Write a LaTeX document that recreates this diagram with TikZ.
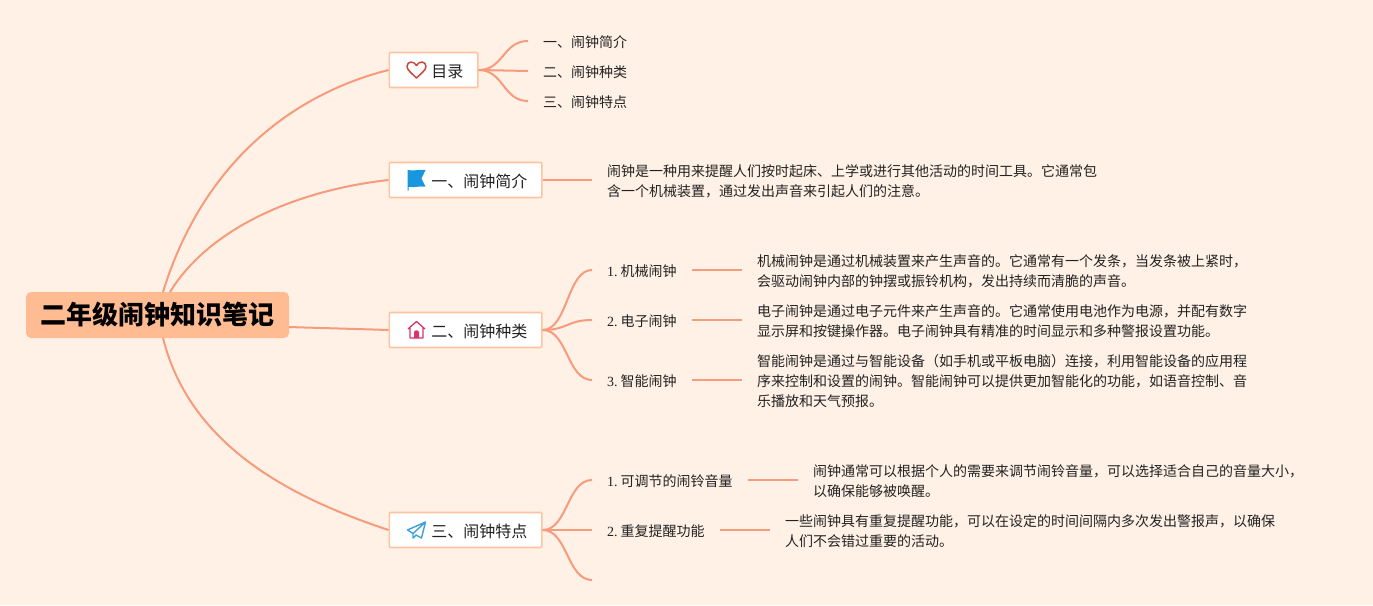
\documentclass[tikz,border=0pt]{standalone}
\usepackage{fontspec}
\setmainfont{Liberation Serif}
\newfontfamily\cjk{Noto Sans CJK SC}
\usetikzlibrary{positioning}
\definecolor{paper}{HTML}{FFF1E6}
\definecolor{wire}{HTML}{F69B7C}
\definecolor{rootfill}{HTML}{FFBC92}
\definecolor{edge}{HTML}{FFC49F}
\definecolor{ink}{HTML}{222222}
\definecolor{heartred}{HTML}{C8483E}
\definecolor{flagblue}{HTML}{1A96DC}
\definecolor{homered}{HTML}{D8336A}
\definecolor{planeblue}{HTML}{3FA0DC}
\tikzset{
	root/.style={shape=rectangle,fill=rootfill,rounded corners=5pt,minimum width=263pt,minimum height=46pt,inner sep=0pt,text=black,font=\cjk\bfseries\fontsize{26}{30}\selectfont},
	branch/.style={shape=rectangle,draw=edge,fill=white,line width=1.6pt,rounded corners=1pt,minimum height=35pt,inner xsep=14.5pt,inner ysep=0pt,text height=15pt,text depth=1pt,anchor=west,text=ink,font=\cjk\fontsize{16}{20}\selectfont},
	leaf/.style={shape=rectangle,inner xsep=15pt,inner ysep=2pt,text height=13pt,text depth=1pt,anchor=west,text=ink,font=\fontsize{14}{20}\selectfont},
	detail/.style={shape=rectangle,inner xsep=15pt,inner ysep=2pt,yshift=-1pt,anchor=west,align=left,text=ink,font=\fontsize{14}{20}\selectfont},
	wired/.style={draw=wire,line width=2pt},
	iconheart/.pic={\draw[draw=heartred,line width=1.5pt,line join=round] (0,8) .. controls (-4,4) and (-9.5,0) .. (-9.5,-3.5) .. controls (-9.5,-9) and (-2.5,-9.5) .. (0,-4.5) .. controls (2.5,-9.5) and (9.5,-9) .. (9.5,-3.5) .. controls (9.5,0) and (4,4) .. (0,8) -- cycle;},
	iconflag/.pic={\fill[flagblue] (-9,-10) .. controls (-3,-8.5) and (3,-11) .. (9,-10) -- (5,-1.5) -- (9,6.7) .. controls (3,5.7) and (-3,8) .. (-8,6.7) -- (-8,10.5) -- (-9,10.5) -- cycle;},
	iconhome/.pic={\draw[draw=homered,line width=1.3pt,line join=round] (-8.5,-1) -- (0,-8.5) -- (8.5,-1) (-6.5,-2.5) -- (-6.5,8) -- (6.5,8) -- (6.5,-2.5);
		\fill[homered] (-2.5,8) -- (-2.5,2.5) .. controls (-2.5,-0.5) and (2.5,-0.5) .. (2.5,2.5) -- (2.5,8) -- cycle;},
	iconplane/.pic={\draw[draw=planeblue,line width=1.4pt,line join=round] (9,-8) -- (-9,0) -- (-3.5,3.5) -- (9,-8) -- (5,8) -- (-0.5,5) -- (-3.5,8) -- (-3.5,3.5);},
}
\begin{document}
\begin{tikzpicture}[x=1pt,y=-1pt]
	\fill[paper] (0,0) rectangle (1373,605);
	\useasboundingbox (0,0) rectangle (1373,605);

	\node[root] (title) at (157.5,315) {二年级闹钟知识笔记};
	\coordinate (t1) at (163,292);
	\coordinate (t2) at (170,292);
	\coordinate (t3) at (289,327);
	\coordinate (t4) at (163,338);

	\node[branch] (mulu) at (388.5,70) {\hspace*{27.5pt}目录};
	\node[branch] (jianjie) at (388.5,180) {\hspace*{27.5pt}一、闹钟简介};
	\node[branch] (zhonglei) at (388.5,330) {\hspace*{27.5pt}二、闹钟种类};
	\node[branch] (tedian) at (388.5,530) {\hspace*{27.5pt}三、闹钟特点};

	\pic at (416.5,70) {iconheart};
	\pic at (416.5,180) {iconflag};
	\pic at (416.5,330) {iconhome};
	\pic at (416.5,530) {iconplane};

	\node[leaf] (m1) at (528,41) {\cjk 一、闹钟简介};
	\node[leaf] (m2) at (528,71) {\cjk 二、闹钟种类};
	\node[leaf] (m3) at (528,101) {\cjk 三、闹钟特点};

	\node[detail] (j1) at (592,180) {\cjk 闹钟是一种用来提醒人们按时起床、上学或进行其他活动的时间工具。它通常包\\\cjk 含一个机械装置，通过发出声音来引起人们的注意。};

	\node[leaf] (z1) at (592,270) {1.\hspace{3pt}{\cjk 机械闹钟}};
	\node[leaf] (z2) at (592,320) {2.\hspace{3pt}{\cjk 电子闹钟}};
	\node[leaf] (z3) at (592,380) {3.\hspace{3pt}{\cjk 智能闹钟}};
	\node[detail] (z1d) [right=50pt of z1] {\cjk 机械闹钟是通过机械装置来产生声音的。它通常有一个发条，当发条被上紧时，\\\cjk 会驱动闹钟内部的钟摆或振铃机构，发出持续而清脆的声音。};
	\node[detail] (z2d) [right=50pt of z2] {\cjk 电子闹钟是通过电子元件来产生声音的。它通常使用电池作为电源，并配有数字\\\cjk 显示屏和按键操作器。电子闹钟具有精准的时间显示和多种警报设置功能。};
	\node[detail] (z3d) [right=50pt of z3] {\cjk 智能闹钟是通过与智能设备（如手机或平板电脑）连接，利用智能设备的应用程\\\cjk 序来控制和设置的闹钟。智能闹钟可以提供更加智能化的功能，如语音控制、音\\\cjk 乐播放和天气预报。};

	\node[leaf] (t1n) at (592,480) {1.\hspace{3pt}{\cjk 可调节的闹铃音量}};
	\node[leaf] (t2n) at (592,530) {2.\hspace{3pt}{\cjk 重复提醒功能}};
	\coordinate (t3n) at (592,580);
	\node[detail] (t1d) [right=50pt of t1n] {\cjk 闹钟通常可以根据个人的需要来调节闹铃音量，可以选择适合自己的音量大小，\\\cjk 以确保能够被唤醒。};
	\node[detail] (t2d) [right=50pt of t2n] {\cjk 一些闹钟具有重复提醒功能，可以在设定的时间间隔内多次发出警报声，以确保\\\cjk 人们不会错过重要的活动。};

	\draw[wired] (t1) .. controls +(40,-130) and +(-95,24) .. (mulu.west);
	\draw[wired] (t2) .. controls +(40,-65) and +(-90,10) .. (jianjie.west);
	\draw[wired] (t3) .. controls +(30,1) and +(-30,-1) .. (zhonglei.west);
	\draw[wired] (t4) .. controls +(28,112) and +(-90,-30) .. (tedian.west);

	\draw[wired] (mulu.east) .. controls +(25,0) and +(-25,0) .. (m1.west);
	\draw[wired] (mulu.east) -- (m2.west);
	\draw[wired] (mulu.east) .. controls +(25,0) and +(-25,0) .. (m3.west);
	\draw[wired] (jianjie.east) -- (jianjie.east -| j1.west);
	\draw[wired] (zhonglei.east) .. controls +(25,0) and +(-25,0) .. (z1.west);
	\draw[wired] (zhonglei.east) .. controls +(25,0) and +(-25,0) .. (z2.west);
	\draw[wired] (zhonglei.east) .. controls +(25,0) and +(-25,0) .. (z3.west);
	\draw[wired] (z1.east) -- (z1.east -| z1d.west);
	\draw[wired] (z2.east) -- (z2.east -| z2d.west);
	\draw[wired] (z3.east) -- (z3.east -| z3d.west);
	\draw[wired] (tedian.east) .. controls +(25,0) and +(-25,0) .. (t1n.west);
	\draw[wired] (tedian.east) -- (t2n.west);
	\draw[wired] (tedian.east) .. controls +(25,0) and +(-25,0) .. (t3n);
	\draw[wired] (t1n.east) -- (t1n.east -| t1d.west);
	\draw[wired] (t2n.east) -- (t2n.east -| t2d.west);
\end{tikzpicture}
\end{document}
